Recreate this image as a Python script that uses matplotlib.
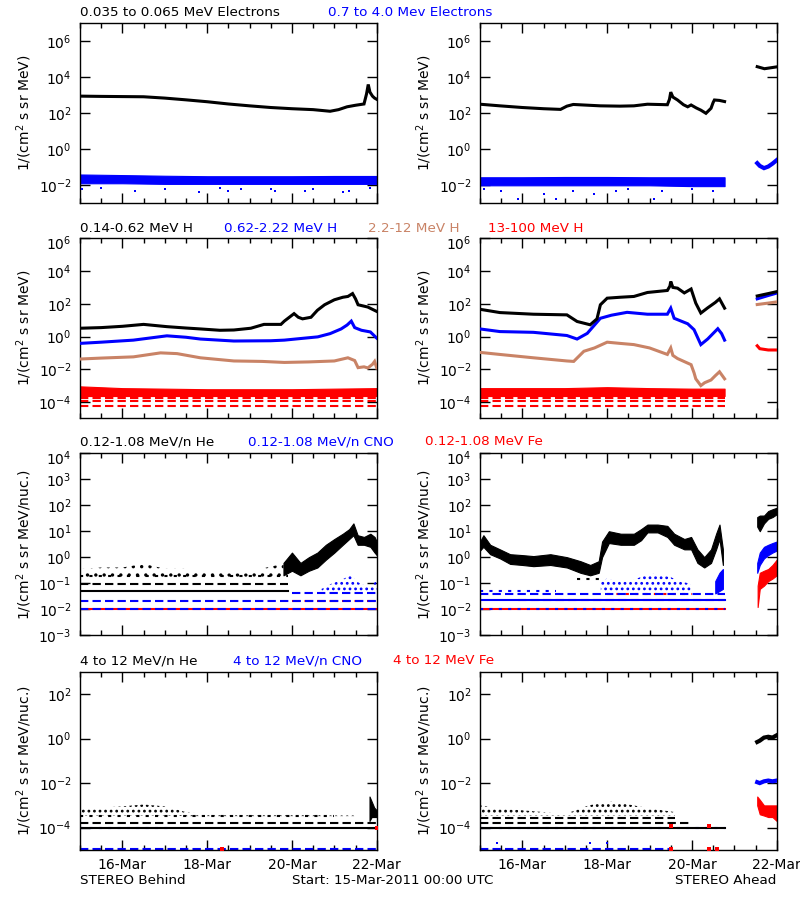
import matplotlib
matplotlib.use('Agg')
import matplotlib.pyplot as plt
from matplotlib.ticker import FixedLocator, FuncFormatter
import math

plt.rcParams.update({
    'font.family': 'DejaVu Sans',
    'font.size': 9.5,
    'hatch.linewidth': 1.2,
    'axes.linewidth': 1.0,
})

BLK = '#000000'
BLU = '#0000ff'
BRN = '#c98366'
RED = '#ff0000'

# ─── x axis (days since 15-Mar-2011 00:00) ────────────────────────────────
XTICKS = [1, 3, 5, 7]
XTICK_LABELS = ['16-Mar', '18-Mar', '20-Mar', '22-Mar']

# ─── Row 1: electrons ─────────────────────────────────────────────────────
# Behind, 0.035-0.065 MeV
eb_lo_t = [0, 0.5, 1.0, 1.5, 2.0, 2.5, 3.0, 3.5, 4.0, 4.5, 5.0, 5.5, 5.9, 6.1, 6.3,
           6.5, 6.7, 6.76, 6.8, 6.84, 6.9, 6.95, 7.0]
eb_lo_v = [900, 870, 850, 830, 700, 560, 440, 330, 260, 210, 180, 160, 130, 160, 230,
           280, 330, 1200, 4000, 1500, 900, 700, 600]
# Behind, 0.7-4.0 MeV (noisy band)
eb_hi_t = [0, 1, 2, 3, 4, 5, 6, 7]
eb_hi_lo = [0.013, 0.013, 0.012, 0.012, 0.012, 0.012, 0.012, 0.012]
eb_hi_up = [0.040, 0.037, 0.034, 0.032, 0.032, 0.032, 0.033, 0.033]
eb_hi_out_t = [0.05, 0.5, 1.3, 2.0, 2.8, 3.3, 3.5, 3.8, 4.5, 4.6, 5.3, 5.5, 6.2, 6.35, 6.85]
eb_hi_out_v = [0.006, 0.007, 0.005, 0.006, 0.004, 0.007, 0.005, 0.006, 0.006, 0.005,
               0.005, 0.006, 0.004, 0.005, 0.007]

# Ahead, 0.035-0.065 MeV
ea_lo_t = [0, 0.47, 1.0, 1.5, 1.9, 2.05, 2.2, 2.84, 3.3, 3.63, 3.95, 4.42, 4.47, 4.5,
           4.55, 4.66, 4.8, 4.9, 4.98, 5.1, 5.21, 5.33, 5.45, 5.5, 5.53, 5.65, 5.77]
ea_lo_v = [320, 260, 210, 180, 165, 250, 310, 260, 250, 260, 320, 300, 600, 1500,
           800, 550, 300, 230, 290, 200, 150, 100, 190, 400, 550, 520, 450]
ea_lo2_t = [6.54, 6.71, 7.0]
ea_lo2_v = [39000, 30000, 38000]
# Ahead, 0.7-4.0 MeV
ea_hi_t = [0, 1, 2, 3, 4, 5, 5.77]
ea_hi_lo = [0.010, 0.010, 0.010, 0.010, 0.010, 0.009, 0.009]
ea_hi_up = [0.028, 0.028, 0.029, 0.029, 0.028, 0.028, 0.028]
ea_hi_out_t = [0.1, 0.5, 0.9, 1.5, 1.8, 2.2, 2.7, 3.2, 3.5, 4.1, 4.3, 5.0, 5.5]
ea_hi_out_v = [0.006, 0.005, 0.0018, 0.0035, 0.0018, 0.005, 0.0035, 0.005, 0.006,
               0.0018, 0.005, 0.006, 0.005]
ea_hi2_t = [6.54, 6.6, 6.7, 6.8, 6.9, 7.0]
ea_hi2_v = [0.17, 0.12, 0.09, 0.11, 0.16, 0.25]

# ─── Row 2: protons ───────────────────────────────────────────────────────
pb_1_t = [0, 0.5, 1.0, 1.5, 2.05, 2.5, 2.84, 3.3, 3.63, 4.03, 4.34, 4.74, 4.82, 5.05,
          5.15, 5.25, 5.45, 5.6, 5.77, 6.0, 6.2, 6.32, 6.43, 6.5, 6.56, 6.79, 7.0]
pb_1_v = [3.2, 3.5, 4.2, 5.5, 4.0, 3.3, 2.9, 2.4, 2.5, 3.2, 5.5, 5.5, 8.7, 25,
          15, 12, 15, 40, 87, 175, 250, 280, 420, 200, 87, 63, 34]
pb_2_t = [0, 0.5, 1.26, 2.05, 2.5, 2.84, 3.63, 4.5, 4.82, 5.2, 5.61, 5.9, 6.16, 6.3,
          6.4, 6.48, 6.64, 6.85, 7.0]
pb_2_v = [0.38, 0.45, 0.6, 1.1, 0.9, 0.7, 0.53, 0.55, 0.6, 0.75, 0.95, 1.5, 2.9, 5,
          8.7, 3.5, 2.4, 1.9, 0.8]
pb_3_t = [0, 0.5, 1.26, 1.9, 2.29, 2.84, 3.63, 4.3, 4.82, 5.4, 6.0, 6.32, 6.48, 6.56,
          6.7, 6.79, 6.9, 6.95, 7.0]
pb_3_v = [0.042, 0.048, 0.057, 0.1, 0.09, 0.05, 0.032, 0.03, 0.026, 0.028, 0.032,
          0.05, 0.034, 0.0125, 0.014, 0.012, 0.02, 0.03, 0.012]
pb_4_t = [0, 1, 2, 3, 4, 5, 6, 7]
pb_4_lo = [2.3e-4, 2.3e-4, 2.3e-4, 2.3e-4, 2.3e-4, 2.3e-4, 2.3e-4, 2.3e-4]
pb_4_up = [9e-4, 7e-4, 6.5e-4, 6e-4, 6e-4, 6e-4, 6.5e-4, 7e-4]

pa_1_t = [0, 0.47, 1.26, 2.05, 2.29, 2.6, 2.76, 2.84, 3.0, 3.3, 3.63, 3.95, 4.42,
          4.48, 4.5, 4.55, 4.66, 4.82, 4.98, 5.09, 5.21, 5.37, 5.55, 5.65, 5.77]
pa_1_v = [46, 29, 23, 21, 8.3, 5.2, 12, 87, 220, 250, 280, 490, 650,
          1200, 2300, 1000, 900, 460, 800, 110, 27, 56, 120, 200, 54]
pa_2_t = [0, 0.47, 1.26, 2.05, 2.29, 2.53, 2.84, 3.1, 3.47, 3.95, 4.42, 4.5, 4.58,
          4.9, 5.05, 5.21, 5.37, 5.61, 5.7, 5.77]
pa_2_v = [2.9, 2.0, 1.8, 1.15, 0.7, 1.55, 13, 20, 30, 23, 23, 54, 13,
          6, 2.6, 0.32, 0.7, 3, 1.5, 0.6]
pa_3_t = [0, 0.47, 1.26, 2.05, 2.21, 2.45, 2.7, 3.0, 3.3, 3.63, 4.0, 4.42, 4.5, 4.55,
          4.66, 4.98, 5.05, 5.09, 5.21, 5.3, 5.45, 5.55, 5.65, 5.77]
pa_3_v = [0.107, 0.08, 0.05, 0.032, 0.03, 0.125, 0.2, 0.45, 0.38, 0.32, 0.2, 0.08,
          0.2, 0.07, 0.045, 0.019, 0.006, 0.0026, 0.001, 0.0015, 0.0022, 0.004, 0.007, 0.0026]
pa_4_t = [0, 1, 2, 3, 4, 5, 5.77]
pa_4_lo = [2.3e-4, 2.3e-4, 2.3e-4, 2.3e-4, 2.3e-4, 2.3e-4, 2.3e-4]
pa_4_up = [7e-4, 7e-4, 7e-4, 8e-4, 7e-4, 6.5e-4, 6.5e-4]
pa_late_t = [6.54, 6.8, 7.0]
pa_late_1 = [300, 420, 550]
pa_late_2 = [200, 320, 450]
pa_late_3 = [90, 110, 130]
pa_late_4_t = [6.54, 6.6, 6.8, 7.0]
pa_late_4 = [0.27, 0.18, 0.15, 0.15]
# discrete count levels of the 13-100 MeV channel: (value, end day)
p_levels_b = [(1.7e-4, 7.0), (1.1e-4, 7.0), (6e-5, 7.0)]
p_levels_a = [(1.7e-4, 5.77), (1.1e-4, 5.77), (6e-5, 5.77)]

# ─── Row 3: low-energy heavy ions ─────────────────────────────────────────
hb_quiet_t = [0, 0.5, 1.0, 1.5, 2.0, 2.5, 3.0, 3.5, 4.0, 4.4, 4.8]
hb_quiet_lo = [0.17, 0.17, 0.17, 0.17, 0.17, 0.17, 0.17, 0.17, 0.17, 0.17, 0.17]
hb_quiet_up = [0.35, 0.4, 0.4, 0.55, 0.36, 0.36, 0.25, 0.24, 0.24, 0.4, 0.55]
hb_event_t = [4.8, 5.0, 5.2, 5.4, 5.6, 5.8, 6.0, 6.2, 6.35, 6.45, 6.55, 6.7, 6.85, 6.95, 7.0]
hb_event_lo = [0.2, 0.3, 0.2, 0.3, 0.4, 0.8, 1.5, 3, 5, 7, 3, 3, 2.5, 1.5, 1.2]
hb_event_up = [0.6, 1.5, 0.6, 1.0, 1.5, 3, 5, 8, 12, 20, 7, 6, 8, 6, 4]
hb_levels = [(0.05, 0, 4.9, '-'), (0.095, 0, 4.9, '--'), (0.19, 0, 4.9, ':')]
cb_cloud_t = [5.7, 5.9, 6.1, 6.3, 6.4, 6.5, 6.6, 6.8, 7.0]
cb_cloud_lo = [0.045, 0.045, 0.045, 0.045, 0.045, 0.045, 0.045, 0.045, 0.045]
cb_cloud_up = [0.06, 0.09, 0.12, 0.17, 0.23, 0.12, 0.1, 0.07, 0.12]
cb_levels = [(0.02, 0, 7.0, '--'), (0.04, 5.0, 7.0, '--')]
fb_levels = [(0.0105, 0, 7.0, '-'), (0.02, 5.0, 7.0, '--')]

ha_t = [0, 0.08, 0.24, 0.47, 0.71, 1.0, 1.26, 1.66, 2.05, 2.37, 2.6, 2.8, 2.88, 3.04,
        3.32, 3.63, 3.8, 3.95, 4.19, 4.42, 4.58, 4.82, 4.98, 5.13, 5.29, 5.45, 5.57,
        5.65, 5.73]
ha_lo = [1.8, 2.5, 1.3, 0.9, 0.55, 0.5, 0.45, 0.5, 0.4, 0.25, 0.2, 0.25, 1.0, 3.5,
         3.0, 3.0, 4.5, 9, 9, 6, 3, 2, 2, 0.6, 0.4, 0.6, 2, 5, 0.5]
ha_up = [4, 7, 3, 2, 1.3, 1.2, 1.1, 1.3, 1.0, 0.7, 0.5, 0.7, 4, 10,
         8, 8, 12, 18, 18, 16, 8, 5, 6, 2, 1.0, 2, 8, 18, 2]
ha2_t = [6.54, 6.6, 6.7, 6.8, 6.9, 7.0]
ha2_lo = [15, 10, 20, 30, 35, 45]
ha2_up = [35, 40, 40, 60, 70, 80]
ha_levels = [(0.15, 2.3, 2.9, ':')]
ca_cloud_t = [2.85, 3.0, 3.3, 3.6, 3.9, 4.1, 4.3, 4.5, 4.7, 4.9, 5.0]
ca_cloud_lo = [0.05, 0.05, 0.05, 0.05, 0.05, 0.05, 0.05, 0.05, 0.05, 0.05, 0.05]
ca_cloud_up = [0.12, 0.15, 0.12, 0.13, 0.2, 0.23, 0.2, 0.17, 0.12, 0.1, 0.08]
ca_rise_t = [5.55, 5.65, 5.73]
ca_rise_lo = [0.04, 0.05, 0.06]
ca_rise_up = [0.12, 0.25, 0.35]
ca2_t = [6.54, 6.6, 6.7, 6.8, 6.9, 7.0]
ca2_lo = [0.25, 0.5, 0.9, 1.2, 1.5, 1.8]
ca2_up = [0.6, 1.5, 2.5, 3, 3.5, 4]
ca_levels = [(0.05, 0, 1.8, ':'), (0.038, 0, 5.77, '--'), (0.022, 0, 5.77, '-')]
fa_levels = [(0.0105, 0, 5.77, '-'), (0.022, 0.9, 5.77, '--'), (0.038, 3.0, 5.0, ':')]
fa2_t = [6.55, 6.6, 6.7, 6.8, 6.9, 7.0]
fa2_lo = [0.012, 0.06, 0.08, 0.12, 0.15, 0.2]
fa2_up = [0.08, 0.25, 0.3, 0.35, 0.5, 0.8]

# ─── Row 4: high-energy heavy ions ────────────────────────────────────────
hhb_t = [0, 0.5, 1.0, 1.5, 2.0, 2.5, 3.0, 3.5, 4.0, 5.0, 6.0, 6.5]
hhb_lo = [3.5e-4, 3.5e-4, 3.5e-4, 3.5e-4, 3.5e-4, 3.3e-4, 3.3e-4, 3.3e-4, 3.3e-4,
          3.3e-4, 3.3e-4, 3.3e-4]
hhb_up = [8e-4, 8e-4, 9e-4, 1.1e-3, 9e-4, 5e-4, 4e-4, 4e-4, 4e-4, 4e-4, 3.6e-4, 3.6e-4]
hhb_spike_t = [6.83, 6.88, 6.94, 7.0]
hhb_spike_lo = [2e-4, 3e-4, 3e-4, 3e-4]
hhb_spike_up = [2.5e-3, 1.5e-3, 8e-4, 6e-4]
hhb_levels = [(1e-4, 0, 7.0, '-'), (1.7e-4, 0, 7.0, '--'), (3.2e-4, 0, 6.0, ':')]
chb_levels = [(1.1e-5, 0, 7.0, '--'), (1e-4, 0, 2.2, ':')]
fhb_dots_t = [3.35, 7.0]
fhb_dots_v = [1.1e-5, 1e-4]

hha_t = [0, 0.5, 1.0, 1.5, 2.0, 2.5, 2.8, 3.1, 3.5, 3.9, 4.3, 4.6]
hha_lo = [3.5e-4, 3.5e-4, 3.5e-4, 3.5e-4, 3.5e-4, 3.5e-4, 3.5e-4, 3.5e-4, 3.5e-4,
          3.5e-4, 3.5e-4, 3.5e-4]
hha_up = [1e-3, 7e-4, 6e-4, 5e-4, 4e-4, 9e-4, 1.3e-3, 1.5e-3, 1.1e-3, 8e-4, 6e-4, 5e-4]
hha_levels = [(1e-4, 0, 5.77, '-'), (1.7e-4, 0, 5.0, '--'), (2.8e-4, 0, 4.6, '--')]
hha2_t = [6.54, 6.6, 6.7, 6.8, 6.9, 7.0]
hha2_v = [0.7, 0.8, 1.1, 1.2, 1.1, 1.4]
cha2_v = [0.011, 0.010, 0.012, 0.013, 0.012, 0.013]
fha2_lo = [1e-3, 4e-4, 3.5e-4, 3e-4, 3e-4, 2e-4]
fha2_up = [2.5e-3, 1.8e-3, 1e-3, 1e-3, 1e-3, 1e-3]
cha_levels = [(1.1e-5, 0, 4.5, '--'), (1e-4, 0, 5.77, ':')]
cha_dots_t = [0.4, 2.6, 3.0]
cha_dots_v = [2e-5, 2e-5, 2e-5]
fha_dots_t = [4.5, 5.4, 4.5, 5.4, 5.6]
fha_dots_v = [1.2e-4, 1.2e-4, 1.1e-5, 1.1e-5, 1.1e-5]

# ─── Titles ───────────────────────────────────────────────────────────────
ROW_TITLES = [
    [('0.035 to 0.065 MeV Electrons', BLK, 80), ('0.7 to 4.0 Mev Electrons', BLU, 328)],
    [('0.14-0.62 MeV H', BLK, 80), ('0.62-2.22 MeV H', BLU, 224),
     ('2.2-12 MeV H', BRN, 368), ('13-100 MeV H', RED, 488)],
    [('0.12-1.08 MeV/n He', BLK, 80), ('0.12-1.08 MeV/n CNO', BLU, 248),
     ('0.12-1.08 MeV Fe', RED, 425)],
    [('4 to 12 MeV/n He', BLK, 80), ('4 to 12 MeV/n CNO', BLU, 233),
     ('4 to 12 MeV Fe', RED, 393)],
]
TITLE_Y = [13, 228, 442, 661]
YLABELS = ['1/(cm$^2$ s sr MeV)', '1/(cm$^2$ s sr MeV)',
           '1/(cm$^2$ s sr MeV/nuc.)', '1/(cm$^2$ s sr MeV/nuc.)']
YLIMS = [(1e-3, 1e7), (1e-5, 1e6), (1e-3, 1e4), (1e-5, 1e3)]
YTICKS = [[1e-2, 1e0, 1e2, 1e4, 1e6],
          [1e-4, 1e-2, 1e0, 1e2, 1e4, 1e6],
          [1e-3, 1e-2, 1e-1, 1e0, 1e1, 1e2, 1e3, 1e4],
          [1e-4, 1e-2, 1e0, 1e2]]


# ─── helpers ──────────────────────────────────────────────────────────────
def pow10(v):
    return '$\\mathdefault{10^{%d}}$' % round(math.log10(v))

def line(ax, t, v, c, lw=2.2):
    ax.plot(t, v, color=c, lw=lw, solid_joinstyle='miter', zorder=3)

def band(ax, t, lo, up, c, hatch=None):
    if hatch:
        ax.fill_between(t, lo, up, facecolor='none', edgecolor=c, hatch=hatch,
                        linewidth=0, zorder=2)
    else:
        ax.fill_between(t, lo, up, color=c, linewidth=0.8, zorder=2)

def levels(ax, lv, c):
    styles = {'-': '-', '--': (0, (4, 2)), ':': (0, (1.5, 3))}
    for v, t0, t1, ls in lv:
        ax.plot([t0, t1], [v, v], color=c, lw=1.5, ls=styles[ls], zorder=2)

def dots(ax, t, v, c, s=3):
    ax.scatter(t, v, s=s, marker='s', color=c, linewidths=0, zorder=3)


fig = plt.figure(figsize=(8, 9), dpi=100)
ROW_BOX = [(0.7741, 0.2000), (0.5352, 0.2000), (0.2944, 0.2019), (0.0556, 0.1981)]
axes = []
for r, (b, h) in enumerate(ROW_BOX):
    row = []
    ytop = YLIMS[r][1]
    for left in (0.1, 0.6):
        ax = fig.add_axes([left, b, 0.3709, h])
        ax.set_yscale('log')
        ax.set_xlim(0, 7)
        ax.set_ylim(*YLIMS[r])
        ax.yaxis.set_major_locator(FixedLocator(YTICKS[r]))
        ax.yaxis.set_minor_locator(FixedLocator([]))
        # the label of a tick on the top edge sits a little lower, as in IDL
        ax.yaxis.set_major_formatter(FuncFormatter(
            lambda v, pos, top=ytop: '' if abs(v - top) < 1e-9 * top else pow10(v)))
        if ytop in YTICKS[r]:
            ax.annotate(pow10(ytop), xy=(0, ytop), xycoords=('axes fraction', 'data'),
                        xytext=(-6, -4), textcoords='offset points',
                        ha='right', va='center', fontsize=10)
        ax.set_xticks(XTICKS)
        ax.set_xticks([i * 0.5 for i in range(15)], minor=True)
        ax.tick_params(which='both', direction='in', top=True, right=True,
                       labelsize=10, pad=6)
        ax.tick_params(which='major', length=7, width=1)
        ax.tick_params(which='minor', length=3.5, width=1)
        if r == 3:
            ax.set_xticklabels(XTICK_LABELS)
        else:
            ax.set_xticklabels([])
        ax.set_ylabel(YLABELS[r], fontsize=10)
        ax.yaxis.set_label_coords(-0.155, 0.5)
        row.append(ax)
    axes.append(row)

# Row 1
ax = axes[0][0]
band(ax, eb_hi_t, eb_hi_lo, eb_hi_up, BLU)
dots(ax, eb_hi_out_t, eb_hi_out_v, BLU)
line(ax, eb_lo_t, eb_lo_v, BLK)
ax = axes[0][1]
band(ax, ea_hi_t, ea_hi_lo, ea_hi_up, BLU)
dots(ax, ea_hi_out_t, ea_hi_out_v, BLU)
line(ax, ea_hi2_t, ea_hi2_v, BLU, lw=3)
line(ax, ea_lo_t, ea_lo_v, BLK)
line(ax, ea_lo2_t, ea_lo2_v, BLK)

# Row 2
ax = axes[1][0]
band(ax, pb_4_t, pb_4_lo, pb_4_up, RED)
for v, t1 in p_levels_b:
    levels(ax, [(v, 0, t1, '--')], RED)
line(ax, pb_3_t, pb_3_v, BRN)
line(ax, pb_2_t, pb_2_v, BLU)
line(ax, pb_1_t, pb_1_v, BLK)
ax = axes[1][1]
band(ax, pa_4_t, pa_4_lo, pa_4_up, RED)
for v, t1 in p_levels_a:
    levels(ax, [(v, 0, t1, '--')], RED)
line(ax, pa_3_t, pa_3_v, BRN)
line(ax, pa_2_t, pa_2_v, BLU)
line(ax, pa_1_t, pa_1_v, BLK)
line(ax, pa_late_t, pa_late_3, BRN)
line(ax, pa_late_t, pa_late_2, BLU)
line(ax, pa_late_t, pa_late_1, BLK)
line(ax, pa_late_4_t, pa_late_4, RED)

# Row 3
ax = axes[2][0]
levels(ax, fb_levels, RED)
levels(ax, cb_levels, BLU)
levels(ax, [(0.0105, 0, 7.0, '--')], BLU)
band(ax, cb_cloud_t, cb_cloud_lo, cb_cloud_up, BLU, hatch='...')
levels(ax, hb_levels, BLK)
band(ax, hb_quiet_t, hb_quiet_lo, hb_quiet_up, BLK, hatch='..')
band(ax, hb_event_t, hb_event_lo, hb_event_up, BLK)
ax = axes[2][1]
levels(ax, fa_levels, RED)
levels(ax, ca_levels, BLU)
levels(ax, [(0.0105, 0, 5.77, ':')], BLU)
band(ax, ca_cloud_t, ca_cloud_lo, ca_cloud_up, BLU, hatch='...')
band(ax, ca_rise_t, ca_rise_lo, ca_rise_up, BLU)
levels(ax, ha_levels, BLK)
band(ax, ha_t, ha_lo, ha_up, BLK)
band(ax, ha2_t, ha2_lo, ha2_up, BLK)
band(ax, ca2_t, ca2_lo, ca2_up, BLU)
band(ax, fa2_t, fa2_lo, fa2_up, RED)

# Row 4
ax = axes[3][0]
levels(ax, chb_levels, BLU)
levels(ax, hhb_levels, BLK)
band(ax, hhb_t, hhb_lo, hhb_up, BLK, hatch='...')
band(ax, hhb_spike_t, hhb_spike_lo, hhb_spike_up, BLK)
dots(ax, fhb_dots_t, fhb_dots_v, RED, s=5)
ax = axes[3][1]
levels(ax, cha_levels, BLU)
levels(ax, hha_levels, BLK)
band(ax, hha_t, hha_lo, hha_up, BLK, hatch='...')
dots(ax, cha_dots_t, cha_dots_v, BLU)
dots(ax, fha_dots_t, fha_dots_v, RED, s=5)
line(ax, hha2_t, hha2_v, BLK, lw=3)
line(ax, hha2_t, cha2_v, BLU, lw=3)
band(ax, hha2_t, fha2_lo, fha2_up, RED)

# Titles and footer
for r, items in enumerate(ROW_TITLES):
    for text, color, xpx in items:
        fig.text(xpx / 800, 1 - TITLE_Y[r] / 900, text, color=color,
                 fontsize=9.7, ha='left', va='center')

fig.text(80 / 800, 1 - 881 / 900, 'STEREO Behind', fontsize=9.7, va='center')
fig.text(292 / 800, 1 - 881 / 900, 'Start: 15-Mar-2011 00:00 UTC', fontsize=9.7, va='center')
fig.text(776 / 800, 1 - 881 / 900, 'STEREO Ahead', fontsize=9.7, va='center', ha='right')

fig.savefig('out.png', dpi=100, facecolor='white')
